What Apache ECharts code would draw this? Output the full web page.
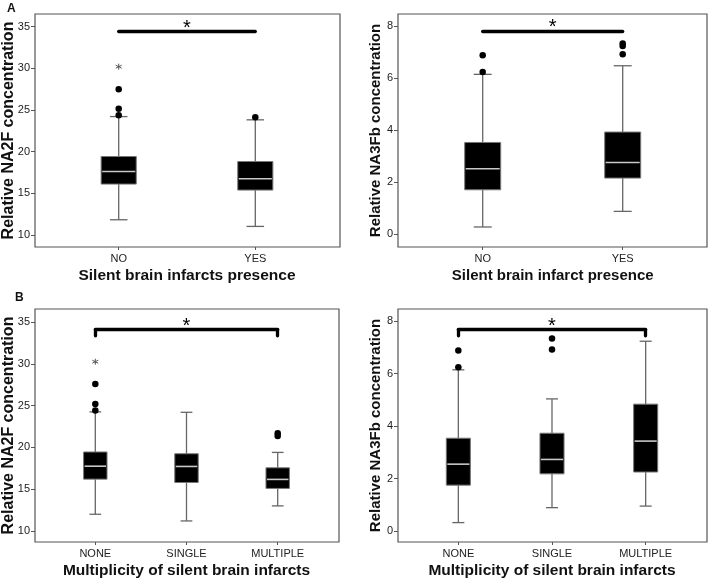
<!DOCTYPE html>
<html lang="en">
<head>
    <meta charset="UTF-8">
    <title>NA2F / NA3Fb boxplots</title>
    <script src="https://cdn.jsdelivr.net/npm/echarts@6/dist/echarts.min.js"></script>
    <style>
        html, body { margin: 0; padding: 0; background: #fff; }
    </style>
</head>
<body>
    <div id="main" style="width:709px;height:583px;"></div>

    <script>
        // categories
        const catsPresence = ['NO', 'YES'];
        const catsMulti = ['NONE', 'SINGLE', 'MULTIPLE'];

        // box values: [low whisker, Q1, median, Q3, high whisker]
        const na2fPresenceBox = [[11.83, 16.11, 17.62, 19.42, 24.21], [11.03, 15.39, 16.75, 18.82, 23.82]];
        const na3fbPresenceBox = [[0.27, 1.70, 2.51, 3.52, 6.14], [0.87, 2.15, 2.75, 3.92, 6.47]];
        const na2fMultiBox = [[12.0, 16.2, 17.75, 19.45, 24.25], [11.2, 15.8, 17.72, 19.24, 24.2], [13.0, 15.09, 16.17, 17.56, 19.4]];
        const na3fbMultiBox = [[0.32, 1.75, 2.55, 3.54, 6.15], [0.89, 2.18, 2.73, 3.73, 5.04], [0.95, 2.25, 3.43, 4.84, 7.24]];

        // outliers [category index, value]
        const na2fPresenceOut = [[0, 24.38], [0, 25.14], [0, 27.5], [1, 24.14]];
        const na3fbPresenceOut = [[0, 6.23], [0, 6.87], [1, 6.91], [1, 7.23], [1, 7.33]];
        const na2fMultiOut = [[0, 24.4], [0, 25.2], [0, 27.6], [2, 21.36], [2, 21.68]];
        const na3fbMultiOut = [[0, 6.25], [0, 6.89], [1, 6.92], [1, 7.34]];

        // extremes (asterisk)
        const na2fPresenceExtreme = [[0, 30.2]];
        const na2fMultiExtreme = [[0, 30.25]];

        // significance bars
        const sigNa2fPresence = 34.48;
        const sigNa3fbPresence = 7.81;
        const sigNa2fMulti = [33.36, 34.08];
        const sigNa3fbMulti = [7.45, 7.68];

        // y ticks
        const ticksNa2f = [10, 15, 20, 25, 30, 35];
        const ticksNa3fb = [0, 2, 4, 6, 8];

        const FONT = 'Liberation Sans, Arial, sans-serif';

        // frame rectangles and inner (data) grid left/width
        const frames = [
            {left: 35, top: 14, width: 305, height: 233},
            {left: 398, top: 14, width: 309, height: 233},
            {left: 35, top: 309, width: 304, height: 233},
            {left: 398, top: 309, width: 309, height: 233}
        ];
        const inner = [
            {left: 50.4, width: 273.2},
            {left: 412.7, width: 280},
            {left: 49.7, width: 273.6},
            {left: 411.5, width: 281}
        ];

        const panels = [
            {cats: catsPresence, box: na2fPresenceBox, out: na2fPresenceOut, ext: na2fPresenceExtreme,
             min: 8.56, max: 36.52, ticks: ticksNa2f, yName: 'Relative NA2F concentration', yNameSize: 16, yGap: 18,
             xName: 'Silent brain infarcts presence', xNameSize: 15.5, sig: sigNa2fPresence},
            {cats: catsPresence, box: na3fbPresenceBox, out: na3fbPresenceOut, ext: [],
             min: -0.5, max: 8.46, ticks: ticksNa3fb, yName: 'Relative NA3Fb concentration', yNameSize: 15, yGap: 15,
             xName: 'Silent brain infarct presence', xNameSize: 15, sig: sigNa3fbPresence},
            {cats: catsMulti, box: na2fMultiBox, out: na2fMultiOut, ext: na2fMultiExtreme,
             min: 8.68, max: 36.56, ticks: ticksNa2f, yName: 'Relative NA2F concentration', yNameSize: 16, yGap: 18,
             xName: 'Multiplicity of silent brain infarcts', xNameSize: 15.5, bracket: sigNa2fMulti},
            {cats: catsMulti, box: na3fbMultiBox, out: na3fbMultiOut, ext: [],
             min: -0.42, max: 8.47, ticks: ticksNa3fb, yName: 'Relative NA3Fb concentration', yNameSize: 15, yGap: 15,
             xName: 'Multiplicity of silent brain infarcts', xNameSize: 15.5, bracket: sigNa3fbMulti}
        ];

        function renderBox(params, api) {
            const x = api.value(0);
            const pLow = api.coord([x, api.value(1)]);
            const pQ1 = api.coord([x, api.value(2)]);
            const pMed = api.coord([x, api.value(3)]);
            const pQ3 = api.coord([x, api.value(4)]);
            const pHigh = api.coord([x, api.value(5)]);
            const band = api.size([1, 0])[0];
            const w = band * 0.257;
            const cap = w / 2;
            const cx = pLow[0];
            const whisker = {stroke: '#666', lineWidth: 1.3};
            return {
                type: 'group',
                children: [
                    {type: 'line', shape: {x1: cx, y1: pLow[1], x2: cx, y2: pQ1[1]}, style: whisker},
                    {type: 'line', shape: {x1: cx, y1: pQ3[1], x2: cx, y2: pHigh[1]}, style: whisker},
                    {type: 'line', shape: {x1: cx - cap / 2, y1: pLow[1], x2: cx + cap / 2, y2: pLow[1]}, style: whisker},
                    {type: 'line', shape: {x1: cx - cap / 2, y1: pHigh[1], x2: cx + cap / 2, y2: pHigh[1]}, style: whisker},
                    {type: 'rect', shape: {x: cx - w / 2, y: pQ3[1], width: w, height: pQ1[1] - pQ3[1]},
                        style: {fill: '#000', stroke: '#777', lineWidth: 1}},
                    {type: 'line', shape: {x1: cx - w / 2 + 1, y1: pMed[1], x2: cx + w / 2 - 1, y2: pMed[1]},
                        style: {stroke: '#c8c8c8', lineWidth: 1.6}}
                ]
            };
        }

        const grid = [], xAxis = [], yAxis = [], series = [];

        panels.forEach(function (p, i) {
            const f = frames[i];
            // frame grid
            grid.push({left: f.left, top: f.top, width: f.width, height: f.height, show: true,
                borderColor: '#555', borderWidth: 1.2, backgroundColor: 'transparent', outerBoundsMode: 'none'});
            xAxis.push({gridIndex: grid.length - 1, type: 'value', show: false});
            yAxis.push({gridIndex: grid.length - 1, type: 'value', show: false});

            // data grid
            grid.push({left: inner[i].left, top: f.top, width: inner[i].width, height: f.height,
                show: false, outerBoundsMode: 'none'});
            const gi = grid.length - 1;
            xAxis.push({
                gridIndex: gi, type: 'category', data: p.cats, position: 'bottom',
                name: p.xName, nameLocation: 'middle', nameGap: 21, nameMoveOverlap: false,
                nameTextStyle: {fontFamily: FONT, fontSize: p.xNameSize, fontWeight: 'bold', color: '#111'},
                axisLine: {show: false, onZero: false},
                axisTick: {show: true, alignWithLabel: true, length: 3, lineStyle: {color: '#555'}},
                axisLabel: {fontFamily: FONT, fontSize: 11, color: '#222', margin: 6},
                splitLine: {show: false}
            });
            yAxis.push({
                gridIndex: gi, type: 'value', min: p.min, max: p.max,
                offset: inner[i].left - f.left,
                name: p.yName, nameLocation: 'middle', nameGap: p.yGap, nameMoveOverlap: false,
                nameTextStyle: {fontFamily: FONT, fontSize: p.yNameSize, fontWeight: 'bold', color: '#111'},
                axisLine: {show: false, onZero: false},
                axisTick: {show: true, length: 4, customValues: p.ticks, lineStyle: {color: '#555'}},
                axisLabel: {fontFamily: FONT, fontSize: 11, color: '#222', margin: 5, customValues: p.ticks},
                splitLine: {show: false}
            });
            const ai = xAxis.length - 1;

            series.push({
                type: 'custom', xAxisIndex: ai, yAxisIndex: ai,
                renderItem: renderBox,
                encode: {x: 0, y: [1, 2, 3, 4, 5]},
                data: p.box.map(function (b, k) { return [k].concat(b); }),
                silent: true
            });

            // significance marker
            const last = p.cats.length - 1;
            const starLabel = {show: true, position: 'middle', formatter: '*', fontFamily: FONT,
                fontSize: 20, color: '#000', distance: -7};
            let mlData;
            if (p.bracket) {
                const lo = p.bracket[0], hi = p.bracket[1];
                mlData = [
                    [{coord: [0, lo]}, {coord: [0, hi]}],
                    [{coord: [0, hi], label: starLabel}, {coord: [last, hi]}],
                    [{coord: [last, hi]}, {coord: [last, lo]}]
                ];
            } else {
                mlData = [[{coord: [0, p.sig], label: starLabel}, {coord: [last, p.sig]}]];
            }

            series.push({
                type: 'scatter', xAxisIndex: ai, yAxisIndex: ai,
                symbol: 'circle', symbolSize: 6.5,
                itemStyle: {color: '#000', opacity: 1},
                data: p.out,
                silent: true,
                markLine: {
                    silent: true, symbol: ['none', 'none'],
                    label: {show: false},
                    lineStyle: {color: '#000', width: 3.3, type: 'solid', cap: 'round', opacity: 1},
                    emphasis: {disabled: true},
                    data: mlData
                }
            });

            if (p.ext.length) {
                series.push({
                    type: 'scatter', xAxisIndex: ai, yAxisIndex: ai,
                    symbol: 'path://M5,0L5,10M0.67,2.5L9.33,7.5M0.67,7.5L9.33,2.5',
                    symbolSize: 6,
                    itemStyle: {color: 'none', borderColor: '#555', borderWidth: 1, opacity: 1},
                    data: p.ext,
                    silent: true
                });
            }
        });

        const option = {
            backgroundColor: '#fff',
            animation: false,
            title: [
                {text: 'A', left: 2, top: -2, textStyle: {fontFamily: FONT, fontSize: 12, fontWeight: 'bold', color: '#111'}},
                {text: 'B', left: 10, top: 287, textStyle: {fontFamily: FONT, fontSize: 12, fontWeight: 'bold', color: '#111'}}
            ],
            grid: grid,
            xAxis: xAxis,
            yAxis: yAxis,
            series: series
        };

        var myChart = echarts.init(document.getElementById('main'));
        myChart.setOption(option);
    </script>
</body>
</html>
